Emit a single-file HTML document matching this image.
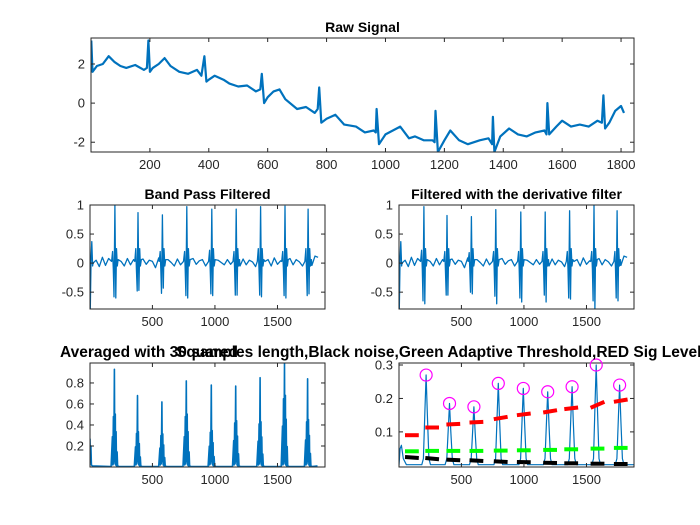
<!DOCTYPE html>
<html><head><meta charset="utf-8">
<style>
html,body{margin:0;padding:0;background:#fff;}
svg{display:block;font-family:"Liberation Sans",Arial,sans-serif;}
.tick{font-size:13px;fill:#262626;}
.title{font-size:14px;font-weight:bold;fill:#000;}
</style></head>
<body>
<svg id="fig" width="700" height="525" viewBox="0 0 700 525"></svg>
<script>
// ---------- data ----------
const rawX=[1,5,20,40,60,80,100,120,150,180,190,195,200,210,230,250,270,300,330,360,375,385,392,400,420,450,470,500,530,560,575,580,588,600,620,640,660,700,730,760,770,775,782,800,830,860,900,930,960,967,970,978,1000,1050,1080,1100,1130,1160,1167,1170,1178,1200,1220,1250,1280,1320,1350,1362,1365,1370,1390,1420,1450,1480,1510,1540,1547,1550,1556,1580,1600,1630,1660,1690,1720,1735,1740,1746,1760,1780,1800,1810];
const rawY=[3.2,1.6,1.9,2.0,2.4,2.1,1.9,1.8,1.95,1.7,1.8,3.2,1.6,1.8,2.0,2.3,1.9,1.6,1.5,1.7,1.4,2.4,1.1,1.2,1.4,1.2,1.0,0.85,0.9,0.6,0.7,1.5,0.0,0.3,0.6,0.7,0.2,-0.3,-0.2,-0.5,-0.3,0.8,-1.0,-0.8,-0.6,-1.1,-1.2,-1.5,-1.4,-1.5,-0.3,-2.1,-1.6,-1.2,-1.8,-1.7,-1.9,-1.9,-2.0,-0.4,-2.5,-1.9,-1.4,-1.9,-2.1,-1.9,-1.8,-2.1,-0.7,-2.5,-1.7,-1.3,-1.6,-1.7,-1.5,-1.4,-1.6,0.0,-1.6,-1.2,-0.9,-1.2,-1.1,-1.2,-0.9,-1.0,0.4,-1.3,-1.0,-0.4,-0.15,-0.5];

const beatX=[200,385,580,775,975,1170,1365,1560,1745];
const bpPos=[1.0,0.87,0.83,0.97,0.93,0.93,0.97,0.98,0.93];
const bpNeg1=[-0.58,-0.48,-0.52,-0.56,-0.53,-0.55,-0.55,-0.56,-0.56];
const bpNeg2=[-0.6,-0.47,-0.43,-0.6,-0.56,-0.55,-0.58,-0.6,-0.53];
const bpPre=[0.2,0.25,0.2,0.2,0.22,0.2,0.25,0.2,0.25];
const dvPos=[0.97,0.82,0.8,0.92,0.88,0.88,0.9,1.0,0.9];
const dvNeg1=[-0.65,-0.55,-0.5,-0.57,-0.6,-0.55,-0.6,-0.65,-0.6];
const dvNeg2=[-0.7,-0.55,-0.53,-0.7,-0.67,-0.67,-0.62,-0.8,-0.65];
const dvPre=[0.22,0.2,0.18,0.2,0.2,0.2,0.2,0.2,0.2];
const wiggle=[0,0.05,-0.06,0.1,-0.04,0.08,0.02,-0.08,0.1,0.03,-0.05,0.08,-0.03,0.06,0.04,-0.06,0.07,-0.02,0.05,0.03,-0.08,0.09,0.02,-0.04,0.06,0.01,-0.05,0.07,-0.03,0.05,0.02,-0.06,0.08,-0.02,0.04,0.06,-0.05,0.03,0.02,-0.04,0.05,0.01,-0.03,0.06,-0.02,0.04,0.03,-0.05,0.07,-0.03,0.05,0.02,-0.06,0.08,-0.04,0.03,0.06,-0.05,0.09,-0.02,0.04,0.05,-0.06,0.08,-0.03,0.06,0.02,-0.05,0.07,0.03,-0.04,0.12,0.1];

const sqPeak=[0.93,0.68,0.62,0.82,0.78,0.77,0.85,0.99,0.84];
const sqSide=[0.48,0.32,0.3,0.48,0.33,0.42,0.41,0.65,0.43];
const avPeakX=[218,405,600,795,995,1190,1385,1578,1765];
const avPeak=[0.27,0.185,0.175,0.245,0.23,0.22,0.235,0.30,0.24];
const segX=[49,211,380,565,759,944,1154,1323,1533,1719];
const redA=[0.09,0.113,0.122,0.128,0.138,0.15,0.158,0.168,0.172,0.19];
const redB=[0.09,0.113,0.124,0.13,0.145,0.155,0.165,0.173,0.19,0.197];
const grn=[0.042,0.043,0.043,0.043,0.044,0.045,0.046,0.048,0.05,0.052];
const blkA=[0.025,0.022,0.017,0.015,0.012,0.01,0.008,0.006,0.005,0.004];
const blkB=[0.022,0.018,0.015,0.013,0.01,0.009,0.007,0.006,0.005,0.004];

// ---------- helpers ----------
const NS="http://www.w3.org/2000/svg";
const svg=document.getElementById('fig');
function mk(tag,attrs,parent){const e=document.createElementNS(NS,tag);for(const k in attrs)e.setAttribute(k,attrs[k]);(parent||svg).appendChild(e);return e;}
function panel(name,box,xlim,ylim,xt,yt,title,titleX,anchor,tsize){
  const g=mk('g',{});
  
  
  const sx=v=>box.x+(v-xlim[0])/(xlim[1]-xlim[0])*box.w;
  const sy=v=>box.y+box.h-(v-ylim[0])/(ylim[1]-ylim[0])*box.h;
  mk('rect',{x:box.x,y:box.y,width:box.w,height:box.h,fill:'#fff'},g);
  const clip=mk('clipPath',{id:name+'-clip'},g);
  mk('rect',{x:box.x,y:box.y,width:box.w,height:box.h},clip);
  const plot=mk('g',{'clip-path':'url(#'+name+'-clip)'},g);
  const axes=mk('g',{},g);
  mk('rect',{x:box.x,y:box.y,width:box.w,height:box.h,fill:'none',stroke:'#262626','stroke-width':1},axes);
  xt.forEach(v=>{const x=sx(v);
    mk('line',{x1:x,x2:x,y1:box.y+box.h,y2:box.y+box.h-4,stroke:'#262626'},axes);
    mk('line',{x1:x,x2:x,y1:box.y,y2:box.y+4,stroke:'#262626'},axes);
    const t=mk('text',{x:x,y:box.y+box.h+17,'text-anchor':'middle',class:'tick'},axes);
    t.textContent=v;
    
    });
  yt.forEach(v=>{const y=sy(v);
    mk('line',{x1:box.x,x2:box.x+4,y1:y,y2:y,stroke:'#262626'},axes);
    mk('line',{x1:box.x+box.w,x2:box.x+box.w-4,y1:y,y2:y,stroke:'#262626'},axes);
    const t=mk('text',{x:box.x-6,y:y+4.5,'text-anchor':'end',class:'tick'},axes);
    t.textContent=v;
    
    });
  const tt=mk('text',{x:titleX||box.x+box.w/2,y:box.y-6,'text-anchor':anchor||'middle',class:'title'});
  if(tsize)tt.setAttribute('style','font-size:'+tsize+'px');
  tt.textContent=title;
  
  
  return {sx,sy,plot,axes};
}
function line(p,xs,ys,color,w,name){
  const pts=xs.map((x,i)=>p.sx(x).toFixed(1)+','+p.sy(ys[i]).toFixed(1)).join(' ');
  const e=mk('polyline',{points:pts,fill:'none',stroke:color,'stroke-width':w,'stroke-linejoin':'round'},p.plot);
  
  
  return e;
}
function beatSeries(pos,n1,n2,pre){
  const pts=[[1,0],[3,-0.79],[10,0.1],[15,0.37],[22,-0.05]];
  for(let i=0;i<wiggle.length;i++){
    const x=25+i*25;
    if(beatX.some(b=>Math.abs(b-x)<28))continue;
    pts.push([x,wiggle[i]]);
  }
  beatX.forEach((b,i)=>{
    pts.push([b-26,0.03],[b-18,pre[i]],[b-13,-0.1],[b-7,n1[i]],[b,pos[i]],[b+7,n2[i]],[b+13,0.25],[b+19,-0.05],[b+26,0.06]);
  });
  pts.sort((a,b)=>a[0]-b[0]);
  return pts;
}

// ---------- top: raw ----------
const p1=panel('raw-signal-panel',{x:91,y:38,w:543,h:114},[0,1844],[-2.5,3.33],[200,400,600,800,1000,1200,1400,1600,1800],[-2,0,2],'Raw Signal');
line(p1,rawX,rawY,'#0072BD',2.2,'raw-signal-line');

// ---------- band pass ----------
const p2=panel('band-pass-panel',{x:90,y:205,w:235,h:104},[1,1880],[-0.79,1],[500,1000,1500],[-0.5,0,0.5,1],'Band Pass Filtered');
let s=beatSeries(bpPos,bpNeg1,bpNeg2,bpPre);
line(p2,s.map(a=>a[0]),s.map(a=>a[1]),'#0072BD',1.3,'band-pass-line');

// ---------- derivative ----------
const p3=panel('derivative-panel',{x:399,y:205,w:235,h:104},[1,1880],[-0.79,1],[500,1000,1500],[-0.5,0,0.5,1],'Filtered with the derivative filter');
s=beatSeries(dvPos,dvNeg1,dvNeg2,dvPre);
line(p3,s.map(a=>a[0]),s.map(a=>a[1]),'#0072BD',1.3,'derivative-line');

// ---------- squared ----------
const p4=panel('squared-panel',{x:90,y:363,w:235,h:104},[1,1880],[0,0.99],[500,1000,1500],[0.2,0.4,0.6,0.8],'Squared',207,'middle',15.5);
const sq=[[1,0.27],[4,0.05],[8,0.2],[12,0.02],[20,0.01]];
beatX.forEach((b,i)=>{const pk=sqPeak[i],sd=sqSide[i];
  sq.push([b-30,0.005],[b-20,sd*0.6],[b-17,0.02],[b-12,sd],[b-9,0.03],[b-4,pk],[b-1,0.05],[b+3,sd*1.05],[b+6,0.02],[b+10,sd*0.7],[b+13,0.01],[b+18,sd*0.3],[b+22,0.01],[b+32,0.005]);});
sq.push([1820,0.01]);
sq.sort((a,b)=>a[0]-b[0]);
line(p4,sq.map(a=>a[0]),sq.map(a=>a[1]),'#0072BD',1.6,'squared-line');

// ---------- averaged + thresholds ----------
const p5=panel('threshold-panel',{x:399,y:363,w:235,h:104},[1,1880],[-0.005,0.306],[500,1000,1500],[0.1,0.2,0.3],'Averaged with 30 samples length,Black noise,Green Adaptive Threshold,RED Sig Level',60,'start',15.5);
const av=[[1,0],[10,0.05],[20,0.06],[35,0.02],[60,0.002]];
avPeakX.forEach((b,i)=>{av.push([b-35,0.002],[b-22,0.02],[b-10,avPeak[i]*0.6],[b,avPeak[i]],[b+10,avPeak[i]*0.55],[b+22,0.02],[b+35,0.002]);});
av.push([1880,0.002]);
av.sort((a,b)=>a[0]-b[0]);
line(p5,av.map(a=>a[0]),av.map(a=>a[1]),'#0072BD',1.2,'averaged-line');
segX.forEach((x0,i)=>{
  line(p5,[x0,x0+110],[redA[i],redB[i]],'#FF0000',4,'sig-level-segment');
  line(p5,[x0,x0+110],[grn[i],grn[i]],'#00FF00',4,'threshold-segment');
  line(p5,[x0,x0+110],[blkA[i],blkB[i]],'#000000',4,'noise-segment');
});
avPeakX.forEach((b,i)=>{
  const c=mk('circle',{cx:p5.sx(b),cy:p5.sy(avPeak[i]),r:6,fill:'none',stroke:'#FF00FF','stroke-width':1.2},p5.axes);
  
  
});
</script>
</body></html>
